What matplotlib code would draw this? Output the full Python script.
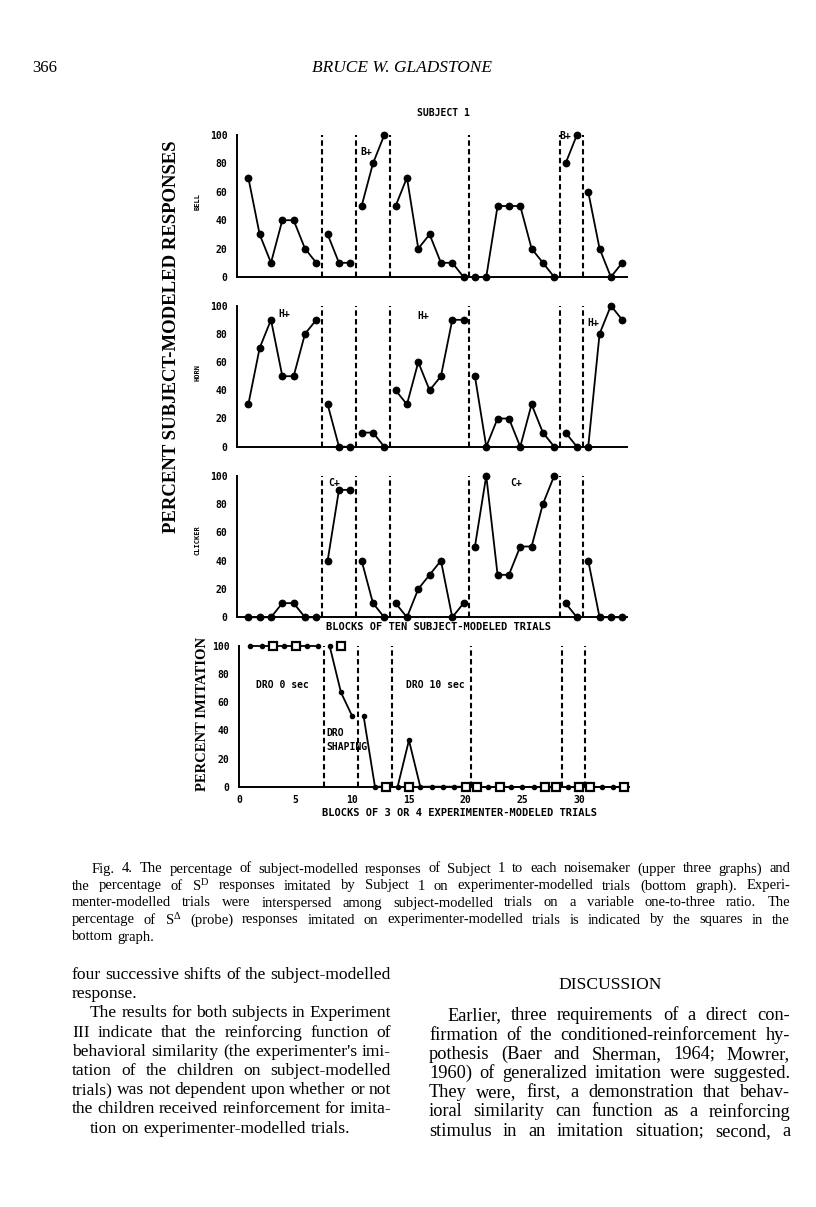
import matplotlib
matplotlib.use('Agg')
import matplotlib.pyplot as plt

W, H = 816, 1207
plt.rcParams['mathtext.fontset'] = 'custom'
plt.rcParams['mathtext.rm'] = 'Liberation Serif'
plt.rcParams['mathtext.it'] = 'Liberation Serif:italic'

# ---------------- data ----------------
blocks = list(range(1, 35))
phase_bounds = [7.5, 10.5, 13.5, 20.5, 28.5, 30.5]

bell = [70, 30, 10, 40, 40, 20, 10,
        30, 10, 10,
        50, 80, 100,
        50, 70, 20, 30, 10, 10, 0,
        0, 0, 50, 50, 50, 20, 10, 0,
        80, 100,
        60, 20, 0, 10]
horn = [30, 70, 90, 50, 50, 80, 90,
        30, 0, 0,
        10, 10, 0,
        40, 30, 60, 40, 50, 90, 90,
        50, 0, 20, 20, 0, 30, 10, 0,
        10, 0,
        0, 80, 100, 90]
clicker = [0, 0, 0, 10, 10, 0, 0,
           40, 90, 90,
           40, 10, 0,
           10, 0, 20, 30, 40, 0, 10,
           50, 100, 30, 30, 50, 50, 80, 100,
           10, 0,
           40, 0, 0, 0]
imit_sd = [100, 100, 100, 100, 100, 100, 100,
           100, 67, 50,
           50, 0, 0,
           0, 33, 0, 0, 0, 0, 0,
           0, 0, 0, 0, 0, 0, 0, 0,
           0, 0,
           0, 0, 0, 0]
probe_x = [3, 5, 9, 13, 15, 20, 21, 23, 27, 28, 30, 31, 34]
probe_y = [100, 100, 100, 0, 0, 0, 0, 0, 0, 0, 0, 0, 0]

panel_names = ['BELL', 'HORN', 'CLICKER']
yticks = [0, 20, 40, 60, 80, 100]
xticks_bottom = [0, 5, 10, 15, 20, 25, 30]

# ---------------- figure ----------------
fig = plt.figure(figsize=(W / 100, H / 100), dpi=100)
fig.patch.set_facecolor('white')

MONO = 'DejaVu Sans Mono'
SERIF = 'Liberation Serif'
XMAX = (627 - 237) / 11.33


def px_axes(left, top, right, bottom):
    return fig.add_axes([left / W, 1 - bottom / H, (right - left) / W, (bottom - top) / H])


def segments(xs, ys):
    edges = [-1e9] + phase_bounds + [1e9]
    out = []
    for a, b in zip(edges[:-1], edges[1:]):
        sx = [x for x in xs if a < x < b]
        sy = [y for x, y in zip(xs, ys) if a < x < b]
        if sx:
            out.append((sx, sy))
    return out


def style_axes(ax, bottom_labels=False):
    ax.set_xlim(0, XMAX)
    ax.set_ylim(0, 100)
    for s in ['top', 'right']:
        ax.spines[s].set_visible(False)
    for s in ['left', 'bottom']:
        ax.spines[s].set_linewidth(1.4)
    ax.set_yticks(yticks)
    ax.set_yticklabels([str(t) for t in yticks], fontfamily=MONO, fontweight='bold', fontsize=7)
    ax.tick_params(axis='y', length=0, pad=7)
    if bottom_labels:
        ax.set_xticks(xticks_bottom)
        ax.set_xticklabels([str(t) for t in xticks_bottom], fontfamily=MONO, fontweight='bold', fontsize=7)
        ax.tick_params(axis='x', length=0, pad=6)
    else:
        ax.set_xticks([])
    for b in phase_bounds:
        ax.plot([b, b], [0, 100], color='black', lw=1.5, dashes=(2.6, 1.6), clip_on=False)
    ax.patch.set_alpha(0)


tops = [(135, 277), (305.7, 446.7), (475.7, 617.3)]
series = [bell, horn, clicker]
axes = []
for (t, b), vals in zip(tops, series):
    ax = px_axes(237, t, 627, b)
    style_axes(ax)
    for sx, sy in segments(blocks, vals):
        ax.plot(sx, sy, color='black', lw=1.3, marker='o', ms=4.6, clip_on=False, zorder=3)
    axes.append(ax)

# plus annotations
ann_kw = dict(fontfamily=MONO, fontweight='bold', fontsize=7, ha='center', va='center')
axes[0].text(11.4, 88, 'B+', **ann_kw)
axes[0].text(29.0, 99, 'B+', **ann_kw)
axes[1].text(4.2, 94, 'H+', **ann_kw)
axes[1].text(16.4, 93, 'H+', **ann_kw)
axes[1].text(31.4, 88, 'H+', **ann_kw)
axes[2].text(8.6, 95, 'C+', **ann_kw)
axes[2].text(24.6, 95, 'C+', **ann_kw)

axes[2].text(17.8, -7, 'BLOCKS OF TEN SUBJECT-MODELED TRIALS', fontfamily=MONO, fontweight='bold',
             fontsize=7.5, ha='center', va='center')

# bottom panel
axb = px_axes(239, 646, 629, 786.7)
style_axes(axb, bottom_labels=True)
for sx, sy in segments(blocks, imit_sd):
    axb.plot(sx, sy, color='black', lw=1.3, marker='o', ms=3.0, clip_on=False, zorder=3)
axb.plot(probe_x, probe_y, linestyle='none', marker='s', ms=5.5, mfc='white', mec='black', mew=1.6,
         clip_on=False, zorder=4)
axb.text(3.8, 72, 'DRO 0 sec', fontfamily=MONO, fontweight='bold', fontsize=7, ha='center', va='center')
axb.text(17.3, 72, 'DRO 10 sec', fontfamily=MONO, fontweight='bold', fontsize=7, ha='center', va='center')
axb.text(7.75, 38, 'DRO', fontfamily=MONO, fontweight='bold', fontsize=7, ha='left', va='center')
axb.text(7.75, 28, 'SHAPING', fontfamily=MONO, fontweight='bold', fontsize=7, ha='left', va='center')
axb.text(19.5, -19, 'BLOCKS OF 3 OR 4 EXPERIMENTER-MODELED TRIALS', fontfamily=MONO, fontweight='bold',
         fontsize=7.5, ha='center', va='center')

# panel names
fy = lambda y: 1 - y / H
fx = lambda x: x / W
for name, yc in zip(panel_names, [202, 373, 540]):
    fig.text(fx(198), fy(yc), name, rotation=90, fontfamily=MONO, fontweight='bold', fontsize=5,
             ha='center', va='center')

fig.text(fx(443), fy(113), 'SUBJECT 1', fontfamily=MONO, fontweight='bold', fontsize=7,
         ha='center', va='center')
fig.text(fx(172), fy(337), 'PERCENT SUBJECT-MODELED RESPONSES', rotation=90, fontfamily=SERIF,
         fontweight='bold', fontsize=13.5, ha='center', va='center')
fig.text(fx(202), fy(714), 'PERCENT IMITATION', rotation=90, fontfamily=SERIF,
         fontweight='bold', fontsize=10.5, ha='center', va='center')

# header
fig.text(fx(32), fy(68), '366', fontfamily=SERIF, fontsize=12, ha='left', va='center')
fig.text(fx(402), fy(68), 'BRUCE W. GLADSTONE', fontfamily=SERIF, style='italic', fontsize=12.5,
         ha='center', va='center')

renderer = fig.canvas.get_renderer()


def justify(line, x0, x1, y, size, just=True):
    words = line.split(' ')
    objs = [fig.text(0, fy(y), w, fontfamily=SERIF, fontsize=size, va='center', ha='left') for w in words]
    widths = [o.get_window_extent(renderer).width for o in objs]
    space = objs[0].get_fontsize() * 0.25 * 100 / 72
    if just and len(words) > 1:
        gap = (x1 - x0 - sum(widths)) / (len(words) - 1)
    else:
        gap = space
    x = x0
    for o, w in zip(objs, widths):
        o.set_x(fx(x))
        x += w + gap


caption = [
    ("Fig. 4. The percentage of subject-modelled responses of Subject 1 to each noisemaker (upper three graphs) and", 92, True),
    ("the percentage of S$^{\\mathrm{D}}$ responses imitated by Subject 1 on experimenter-modelled trials (bottom graph). Experi-", 72, True),
    ("menter-modelled trials were interspersed among subject-modelled trials on a variable one-to-three ratio. The", 72, True),
    ("percentage of S$^{\\mathrm{\u0394}}$ (probe) responses imitated on experimenter-modelled trials is indicated by the squares in the", 72, True),
    ("bottom graph.", 72, False),
]
for i, (ln, x0, j) in enumerate(caption):
    justify(ln, x0, 790, 869 + i * 17, 10.5, j)

left_col = [
    ("four successive shifts of the subject-modelled", 72, True),
    ("response.", 72, False),
    ("The results for both subjects in Experiment", 90, True),
    ("III indicate that the reinforcing function of", 72, True),
    ("behavioral similarity (the experimenter's imi-", 72, True),
    ("tation of the children on subject-modelled", 72, True),
    ("trials) was not dependent upon whether or not", 72, True),
    ("the children received reinforcement for imita-", 72, True),
    ("tion on experimenter-modelled trials.", 90, False),
]
for i, (ln, x0, j) in enumerate(left_col):
    justify(ln, x0, 391, 975 + i * 19.2, 12.6, j)

fig.text(fx(610), fy(985), 'DISCUSSION', fontfamily=SERIF, fontsize=12.6, ha='center', va='center')
right_col = [
    ("Earlier, three requirements of a direct con-", 447, True),
    ("firmation of the conditioned-reinforcement hy-", 429, True),
    ("pothesis (Baer and Sherman, 1964; Mowrer,", 429, True),
    ("1960) of generalized imitation were suggested.", 429, True),
    ("They were, first, a demonstration that behav-", 429, True),
    ("ioral similarity can function as a reinforcing", 429, True),
    ("stimulus in an imitation situation; second, a", 429, True),
]
for i, (ln, x0, j) in enumerate(right_col):
    justify(ln, x0, 790, 1016 + i * 19.2, 13.2, j)

fig.savefig('out.png', dpi=100, facecolor='white')
